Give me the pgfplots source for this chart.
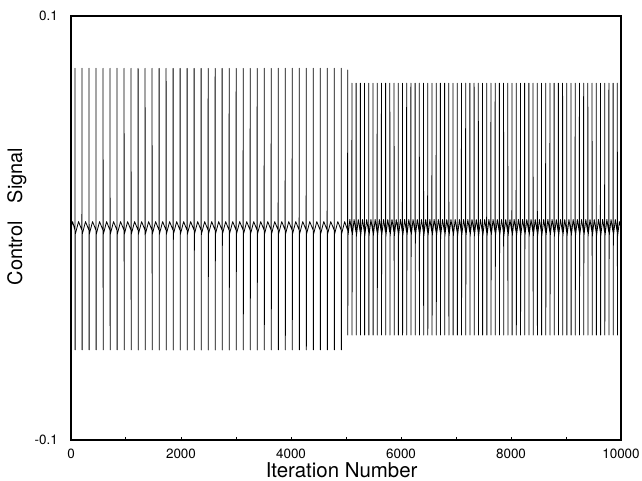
\documentclass[border=0pt]{standalone}
\usepackage{pgfplots}
\pgfplotsset{compat=1.18}
\usepackage{fontspec}
\setmainfont{TeX Gyre Heros}
\begin{document}
\begin{tikzpicture}
\begin{axis}[
  name=ax,
  scale only axis,
  width=550bp, height=424bp,
  xmin=0, xmax=10000, ymin=-0.1, ymax=0.1,
  axis line style={line width=2.2bp, line cap=rect},
  xtick={0,2000,4000,6000,8000,10000},
  xticklabels={0,2000,4000,6000,8000,10000},
  minor tick num=1,
  scaled x ticks=false, scaled y ticks=false,
  xtick pos=left,
  tick align=inside,
  major tick length=3bp, minor tick length=3bp,
  xtick style={line width=1bp, black},
  xminorticks=true, yminorticks=false,
  ytick={-0.1,0.1},
  yticklabels={-0.1,0.1},
  ytick style={draw=none},
  xticklabel style={font=\fontsize{13.5}{16}\selectfont, anchor=north, inner sep=0pt, yshift=-9bp},
  yticklabel style={font=\fontsize{13.5}{16}\selectfont, anchor=east, inner sep=0pt, xshift=-13bp},
  xlabel={Iteration Number},
  ylabel={Control\hspace{18bp}Signal},
  xlabel style={font=\fontsize{20.5}{24}\selectfont, inner sep=0pt, anchor=base, at={(axis description cs:0.492,-0.0873)}},
  ylabel style={font=\fontsize{20}{24}\selectfont, inner sep=0pt, anchor=north, at={(axis description cs:-0.1164,0.527)}},
]
\addplot[black, line width=0.8bp, line join=round, mark=none] coordinates {
(0,0.000)(30,0.003)
(71,-0.001)(73,0.0753)(75,-0.0575)(77,-0.003)(137,0.003)
(198,-0.001)(200,0.0753)(202,-0.0575)(204,-0.003)(264,0.003)
(326,-0.001)(328,0.0753)(330,-0.0575)(332,-0.003)(392,0.003)
(453,-0.001)(455,0.0753)(457,-0.0575)(459,-0.003)(519,0.003)
(581,-0.001)(583,0.0753)(585,-0.0575)(587,-0.003)(647,0.003)
(708,-0.001)(710,0.0753)(712,-0.0575)(714,-0.003)(774,0.003)
(835,-0.001)(837,0.0753)(839,-0.0575)(841,-0.003)(901,0.003)
(963,-0.001)(965,0.0753)(967,-0.0575)(969,-0.003)(1029,0.003)
(1090,-0.001)(1092,0.0753)(1094,-0.0575)(1096,-0.003)(1156,0.003)
(1218,-0.001)(1220,0.0753)(1222,-0.0575)(1224,-0.003)(1284,0.003)
(1345,-0.001)(1347,0.0753)(1349,-0.0575)(1351,-0.003)(1411,0.003)
(1472,-0.001)(1474,0.0753)(1476,-0.0575)(1478,-0.003)(1538,0.003)
(1600,-0.001)(1602,0.0753)(1604,-0.0575)(1606,-0.003)(1666,0.003)
(1727,-0.001)(1729,0.0753)(1731,-0.0575)(1733,-0.003)(1793,0.003)
(1855,-0.001)(1857,0.0753)(1859,-0.0575)(1861,-0.003)(1921,0.003)
(1982,-0.001)(1984,0.0753)(1986,-0.0575)(1988,-0.003)(2048,0.003)
(2109,-0.001)(2111,0.0753)(2113,-0.0575)(2115,-0.003)(2175,0.003)
(2237,-0.001)(2239,0.0753)(2241,-0.0575)(2243,-0.003)(2303,0.003)
(2364,-0.001)(2366,0.0753)(2368,-0.0575)(2370,-0.003)(2430,0.003)
(2492,-0.001)(2494,0.0753)(2496,-0.0575)(2498,-0.003)(2558,0.003)
(2619,-0.001)(2621,0.0753)(2623,-0.0575)(2625,-0.003)(2685,0.003)
(2746,-0.001)(2748,0.0753)(2750,-0.0575)(2752,-0.003)(2812,0.003)
(2874,-0.001)(2876,0.0753)(2878,-0.0575)(2880,-0.003)(2940,0.003)
(3001,-0.001)(3003,0.0753)(3005,-0.0575)(3007,-0.003)(3067,0.003)
(3129,-0.001)(3131,0.0753)(3133,-0.0575)(3135,-0.003)(3195,0.003)
(3256,-0.001)(3258,0.0753)(3260,-0.0575)(3262,-0.003)(3322,0.003)
(3383,-0.001)(3385,0.0753)(3387,-0.0575)(3389,-0.003)(3449,0.003)
(3511,-0.001)(3513,0.0753)(3515,-0.0575)(3517,-0.003)(3577,0.003)
(3638,-0.001)(3640,0.0753)(3642,-0.0575)(3644,-0.003)(3704,0.003)
(3766,-0.001)(3768,0.0753)(3770,-0.0575)(3772,-0.003)(3832,0.003)
(3893,-0.001)(3895,0.0753)(3897,-0.0575)(3899,-0.003)(3959,0.003)
(4020,-0.001)(4022,0.0753)(4024,-0.0575)(4026,-0.003)(4086,0.003)
(4148,-0.001)(4150,0.0753)(4152,-0.0575)(4154,-0.003)(4214,0.003)
(4275,-0.001)(4277,0.0753)(4279,-0.0575)(4281,-0.003)(4341,0.003)
(4403,-0.001)(4405,0.0753)(4407,-0.0575)(4409,-0.003)(4469,0.003)
(4530,-0.001)(4532,0.0753)(4534,-0.0575)(4536,-0.003)(4596,0.003)
(4657,-0.001)(4659,0.0753)(4661,-0.0575)(4663,-0.003)(4723,0.003)
(4785,-0.001)(4787,0.0753)(4789,-0.0575)(4791,-0.003)(4851,0.003)
(4912,-0.001)(4914,0.0753)(4916,-0.0575)(4918,-0.003)(4975,0.003)
(5029,-0.001)(5031,0.0745)(5033,-0.0505)(5035,-0.004)(5070,0.004)
(5106,-0.002)(5108,0.0683)(5110,-0.0505)(5112,-0.004)(5147,0.004)
(5182,-0.002)(5184,0.0683)(5186,-0.0505)(5188,-0.004)(5223,0.004)
(5259,-0.002)(5261,0.0683)(5263,-0.0505)(5265,-0.004)(5300,0.004)
(5335,-0.002)(5337,0.0683)(5339,-0.0505)(5341,-0.004)(5376,0.004)
(5412,-0.002)(5414,0.0683)(5416,-0.0505)(5418,-0.004)(5453,0.004)
(5489,-0.002)(5491,0.0683)(5493,-0.0505)(5495,-0.004)(5530,0.004)
(5565,-0.002)(5567,0.0683)(5569,-0.0505)(5571,-0.004)(5606,0.004)
(5642,-0.002)(5644,0.0683)(5646,-0.0505)(5648,-0.004)(5683,0.004)
(5718,-0.002)(5720,0.0683)(5722,-0.0505)(5724,-0.004)(5759,0.004)
(5795,-0.002)(5797,0.0683)(5799,-0.0505)(5801,-0.004)(5836,0.004)
(5872,-0.002)(5874,0.0683)(5876,-0.0505)(5878,-0.004)(5913,0.004)
(5948,-0.002)(5950,0.0683)(5952,-0.0505)(5954,-0.004)(5989,0.004)
(6025,-0.002)(6027,0.0683)(6029,-0.0505)(6031,-0.004)(6066,0.004)
(6101,-0.002)(6103,0.0683)(6105,-0.0505)(6107,-0.004)(6142,0.004)
(6178,-0.002)(6180,0.0683)(6182,-0.0505)(6184,-0.004)(6219,0.004)
(6255,-0.002)(6257,0.0683)(6259,-0.0505)(6261,-0.004)(6296,0.004)
(6331,-0.002)(6333,0.0683)(6335,-0.0505)(6337,-0.004)(6372,0.004)
(6408,-0.002)(6410,0.0683)(6412,-0.0505)(6414,-0.004)(6449,0.004)
(6484,-0.002)(6486,0.0683)(6488,-0.0505)(6490,-0.004)(6525,0.004)
(6561,-0.002)(6563,0.0683)(6565,-0.0505)(6567,-0.004)(6602,0.004)
(6638,-0.002)(6640,0.0683)(6642,-0.0505)(6644,-0.004)(6679,0.004)
(6714,-0.002)(6716,0.0683)(6718,-0.0505)(6720,-0.004)(6755,0.004)
(6791,-0.002)(6793,0.0683)(6795,-0.0505)(6797,-0.004)(6832,0.004)
(6867,-0.002)(6869,0.0683)(6871,-0.0505)(6873,-0.004)(6908,0.004)
(6944,-0.002)(6946,0.0683)(6948,-0.0505)(6950,-0.004)(6985,0.004)
(7021,-0.002)(7023,0.0683)(7025,-0.0505)(7027,-0.004)(7062,0.004)
(7097,-0.002)(7099,0.0683)(7101,-0.0505)(7103,-0.004)(7138,0.004)
(7174,-0.002)(7176,0.0683)(7178,-0.0505)(7180,-0.004)(7215,0.004)
(7250,-0.002)(7252,0.0683)(7254,-0.0505)(7256,-0.004)(7291,0.004)
(7327,-0.002)(7329,0.0683)(7331,-0.0505)(7333,-0.004)(7368,0.004)
(7404,-0.002)(7406,0.0683)(7408,-0.0505)(7410,-0.004)(7445,0.004)
(7480,-0.002)(7482,0.0683)(7484,-0.0505)(7486,-0.004)(7521,0.004)
(7557,-0.002)(7559,0.0683)(7561,-0.0505)(7563,-0.004)(7598,0.004)
(7633,-0.002)(7635,0.0683)(7637,-0.0505)(7639,-0.004)(7674,0.004)
(7710,-0.002)(7712,0.0683)(7714,-0.0505)(7716,-0.004)(7751,0.004)
(7787,-0.002)(7789,0.0683)(7791,-0.0505)(7793,-0.004)(7828,0.004)
(7863,-0.002)(7865,0.0683)(7867,-0.0505)(7869,-0.004)(7904,0.004)
(7940,-0.002)(7942,0.0683)(7944,-0.0505)(7946,-0.004)(7981,0.004)
(8016,-0.002)(8018,0.0683)(8020,-0.0505)(8022,-0.004)(8057,0.004)
(8093,-0.002)(8095,0.0683)(8097,-0.0505)(8099,-0.004)(8134,0.004)
(8170,-0.002)(8172,0.0683)(8174,-0.0505)(8176,-0.004)(8211,0.004)
(8246,-0.002)(8248,0.0683)(8250,-0.0505)(8252,-0.004)(8287,0.004)
(8323,-0.002)(8325,0.0683)(8327,-0.0505)(8329,-0.004)(8364,0.004)
(8399,-0.002)(8401,0.0683)(8403,-0.0505)(8405,-0.004)(8440,0.004)
(8476,-0.002)(8478,0.0683)(8480,-0.0505)(8482,-0.004)(8517,0.004)
(8553,-0.002)(8555,0.0683)(8557,-0.0505)(8559,-0.004)(8594,0.004)
(8629,-0.002)(8631,0.0683)(8633,-0.0505)(8635,-0.004)(8670,0.004)
(8706,-0.002)(8708,0.0683)(8710,-0.0505)(8712,-0.004)(8747,0.004)
(8782,-0.002)(8784,0.0683)(8786,-0.0505)(8788,-0.004)(8823,0.004)
(8859,-0.002)(8861,0.0683)(8863,-0.0505)(8865,-0.004)(8900,0.004)
(8936,-0.002)(8938,0.0683)(8940,-0.0505)(8942,-0.004)(8977,0.004)
(9012,-0.002)(9014,0.0683)(9016,-0.0505)(9018,-0.004)(9053,0.004)
(9089,-0.002)(9091,0.0683)(9093,-0.0505)(9095,-0.004)(9130,0.004)
(9165,-0.002)(9167,0.0683)(9169,-0.0505)(9171,-0.004)(9206,0.004)
(9242,-0.002)(9244,0.0683)(9246,-0.0505)(9248,-0.004)(9283,0.004)
(9319,-0.002)(9321,0.0683)(9323,-0.0505)(9325,-0.004)(9360,0.004)
(9395,-0.002)(9397,0.0683)(9399,-0.0505)(9401,-0.004)(9436,0.004)
(9472,-0.002)(9474,0.0683)(9476,-0.0505)(9478,-0.004)(9513,0.004)
(9548,-0.002)(9550,0.0683)(9552,-0.0505)(9554,-0.004)(9589,0.004)
(9625,-0.002)(9627,0.0683)(9629,-0.0505)(9631,-0.004)(9666,0.004)
(9702,-0.002)(9704,0.0683)(9706,-0.0505)(9708,-0.004)(9743,0.004)
(9778,-0.002)(9780,0.0683)(9782,-0.0505)(9784,-0.004)(9819,0.004)
(9855,-0.002)(9857,0.0683)(9859,-0.0505)(9861,-0.004)(9896,0.004)
(9931,-0.002)(9933,0.0683)(9935,-0.0505)(9937,-0.004)(9970,0.003)
(10000,0.000)
};
\end{axis}
\pgfresetboundingbox
\path[use as bounding box] ([xshift=-71bp,yshift=-41bp]ax.south west) rectangle ([xshift=21bp,yshift=16bp]ax.north east);
\end{tikzpicture}
\end{document}
